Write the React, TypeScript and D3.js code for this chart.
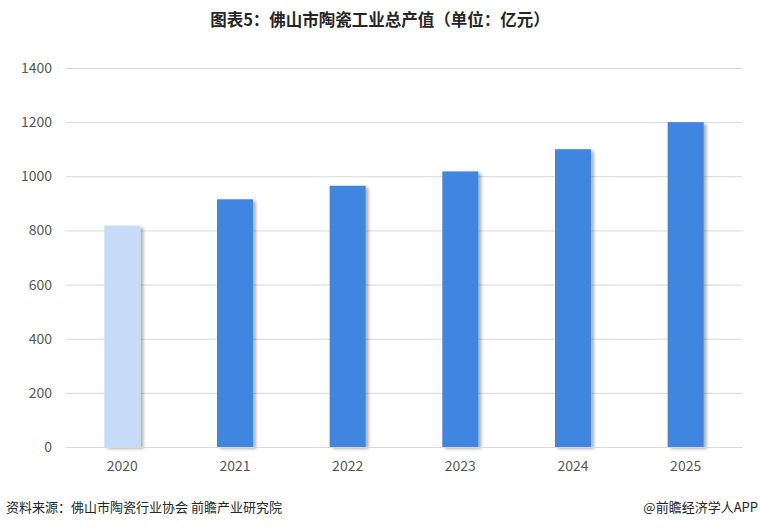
import { useEffect, useRef } from "react";
import * as d3 from "d3";

const years = ["2020", "2021", "2022", "2023", "2024", "2025"];
const values = [818, 915, 965, 1018, 1100, 1200];
const yTicks = [0, 200, 400, 600, 800, 1000, 1200, 1400];

const W = 760;
const H = 528;
const FONT = "'Noto Sans CJK SC', 'Microsoft YaHei', sans-serif";

export default function App() {
  const ref = useRef<SVGSVGElement>(null);

  useEffect(() => {
    const el = ref.current;
    if (!el) return;
    d3.select(el).selectAll("*").remove();
    const svg = d3.select(el);

    const M = { top: 68, right: 18, bottom: 81, left: 66 };

    const defs = svg.append("defs");
    const f = defs.append("filter").attr("id", "shadow")
      .attr("x", "-20%").attr("y", "-5%").attr("width", "150%").attr("height", "115%");
    f.append("feDropShadow").attr("dx", 3).attr("dy", 2).attr("stdDeviation", 1.5)
      .attr("flood-color", "#000").attr("flood-opacity", 0.3);

    svg.append("rect").attr("width", W).attr("height", H).attr("fill", "#fff");

    // Title
    svg.append("text")
      .attr("x", W / 2).attr("y", 26)
      .attr("text-anchor", "middle")
      .style("font-family", FONT).style("font-size", "16.5px").style("font-weight", "bold")
      .attr("fill", "#262626")
      .text("图表5：佛山市陶瓷工业总产值（单位：亿元）");

    const y = d3.scaleLinear().domain([0, 1400]).range([H - M.bottom, M.top]);
    const x = d3.scaleBand().domain(years).range([M.left, W - M.right])
      .paddingInner(0.68).paddingOuter(0.34);

    // Grid
    svg.append("g")
      .attr("transform", `translate(${M.left},0)`)
      .call(d3.axisLeft(y).tickValues(yTicks).tickFormat(d3.format("d"))
        .tickSize(-(W - M.left - M.right)).tickPadding(14))
      .call((g) => g.select(".domain").remove())
      .call((g) => g.selectAll(".tick line").attr("stroke", "#d9d9d9"))
      .call((g) => g.selectAll(".tick text").attr("fill", "#595959")
        .style("font-family", FONT).style("font-size", "14px"));

    // Bars
    svg.selectAll(".bar")
      .data(values).join("rect").attr("class", "bar")
      .attr("x", (_, i) => x(years[i])!)
      .attr("width", x.bandwidth())
      .attr("y", (d) => y(d))
      .attr("height", (d) => y(0) - y(d))
      .attr("fill", (_, i) => (i === 0 ? "#c6dbf7" : "#3f85e0"))
      .attr("filter", "url(#shadow)");

    // X axis
    svg.append("g")
      .attr("transform", `translate(0,${H - M.bottom})`)
      .call(d3.axisBottom(x).tickSize(0).tickPadding(14))
      .call((g) => g.select(".domain").attr("stroke", "#d9d9d9"))
      .call((g) => g.selectAll(".tick text").attr("fill", "#595959")
        .style("font-family", FONT).style("font-size", "14px"));

    // Footer
    svg.append("text")
      .attr("x", 6).attr("y", 512)
      .style("font-family", FONT).style("font-size", "13px")
      .attr("fill", "#262626")
      .text("资料来源：佛山市陶瓷行业协会  前瞻产业研究院");
    svg.append("text")
      .attr("x", W - 2).attr("y", 512)
      .attr("text-anchor", "end")
      .style("font-family", FONT).style("font-size", "13px")
      .attr("fill", "#262626")
      .text("@前瞻经济学人APP");
  }, []);

  return (
    <svg ref={ref} width={W} height={H}
      style={{ position: "absolute", left: 0, top: 0, display: "block" }} />
  );
}
